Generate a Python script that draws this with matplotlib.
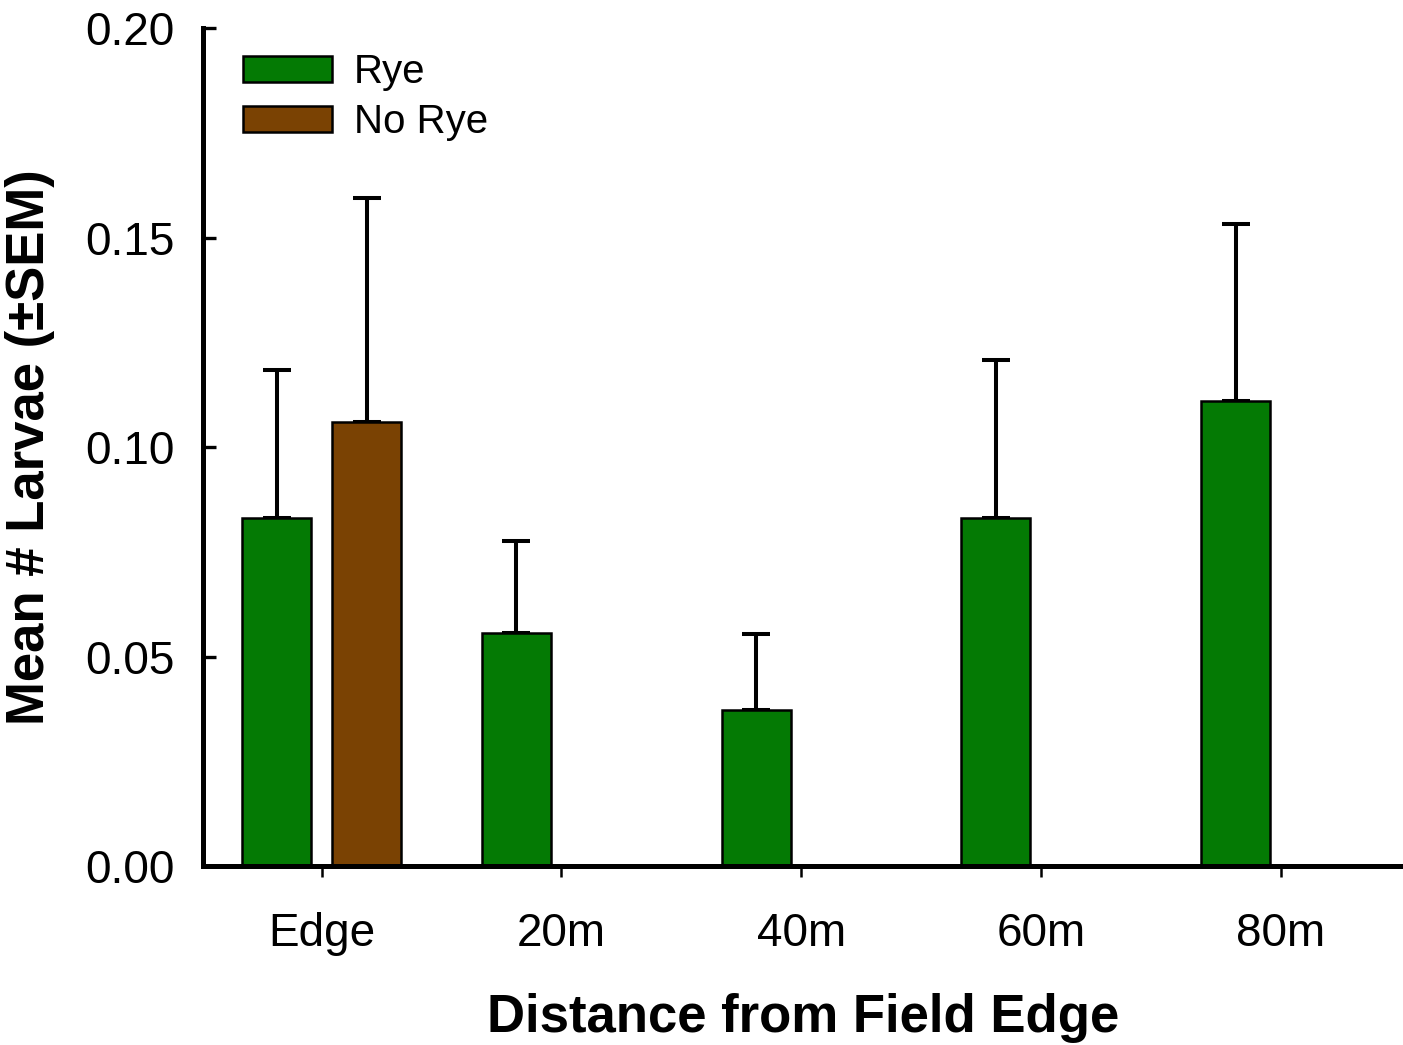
import numpy as np
import matplotlib
matplotlib.use("Agg")
import matplotlib.pyplot as plt

plt.rcParams['font.family'] = ['Liberation Sans', 'DejaVu Sans']

distances = ["Edge", "20m", "40m", "60m", "80m"]
rye_mean = [0.0831, 0.0557, 0.0372, 0.0830, 0.1111]
rye_sem = [0.0353, 0.0220, 0.0182, 0.0378, 0.0422]
norye_mean = [0.1059, np.nan, np.nan, np.nan, np.nan]
norye_sem = [0.0535, np.nan, np.nan, np.nan, np.nan]

green = "#047a04"
brown = "#7a4203"

fig = plt.figure(figsize=(14.03, 10.45), dpi=100)
ax = fig.add_axes([0.1447, 0.1713, 0.8553, 0.8017])

x = np.arange(len(distances))
w = 0.288
off = 0.188

ax.bar(x - off, rye_mean, w, color=green, edgecolor="black", linewidth=1.8,
       label="Rye", zorder=2)
ax.bar(x + off, norye_mean, w, color=brown, edgecolor="black", linewidth=1.8,
       label="No Rye", zorder=2)

err_kw = dict(fmt="none", ecolor="black", elinewidth=2.9, capsize=10,
              capthick=2.9, zorder=1)
ax.errorbar(x - off, rye_mean, yerr=[np.zeros(len(x)), rye_sem], **err_kw)
ax.errorbar(x + off, norye_mean, yerr=[np.zeros(len(x)), norye_sem], **err_kw)

ax.set_xlim(-0.495, 4.51)
ax.set_ylim(0, 0.20)
ax.set_yticks([0, 0.05, 0.10, 0.15, 0.20])
ax.set_yticklabels(["0.00", "0.05", "0.10", "0.15", "0.20"])
ax.set_xticks(x)
ax.set_xticklabels(distances)

for s in ["top", "right"]:
    ax.spines[s].set_visible(False)
for s in ["left", "bottom"]:
    ax.spines[s].set_linewidth(3.6)
ax.spines["left"].set_bounds(0, 0.20)

ax.tick_params(axis="y", direction="in", length=9, width=2.4, labelsize=33, pad=20.5)
ax.tick_params(axis="x", direction="out", length=8, width=1.8, labelsize=33, pad=25)

ax.set_xlabel("Distance from Field Edge", fontsize=38, fontweight="bold", labelpad=27)
ax.set_ylabel("Mean # Larvae (\u00b1SEM)", fontsize=38, fontweight="bold", labelpad=22)

ax.legend(loc="upper left", bbox_to_anchor=(0.0333, 0.9705), frameon=False,
          fontsize=29, handlelength=2.2, handleheight=0.62, handletextpad=0.55,
          labelspacing=0.3, borderpad=0, borderaxespad=0)

fig.savefig("out.png", dpi=100)
